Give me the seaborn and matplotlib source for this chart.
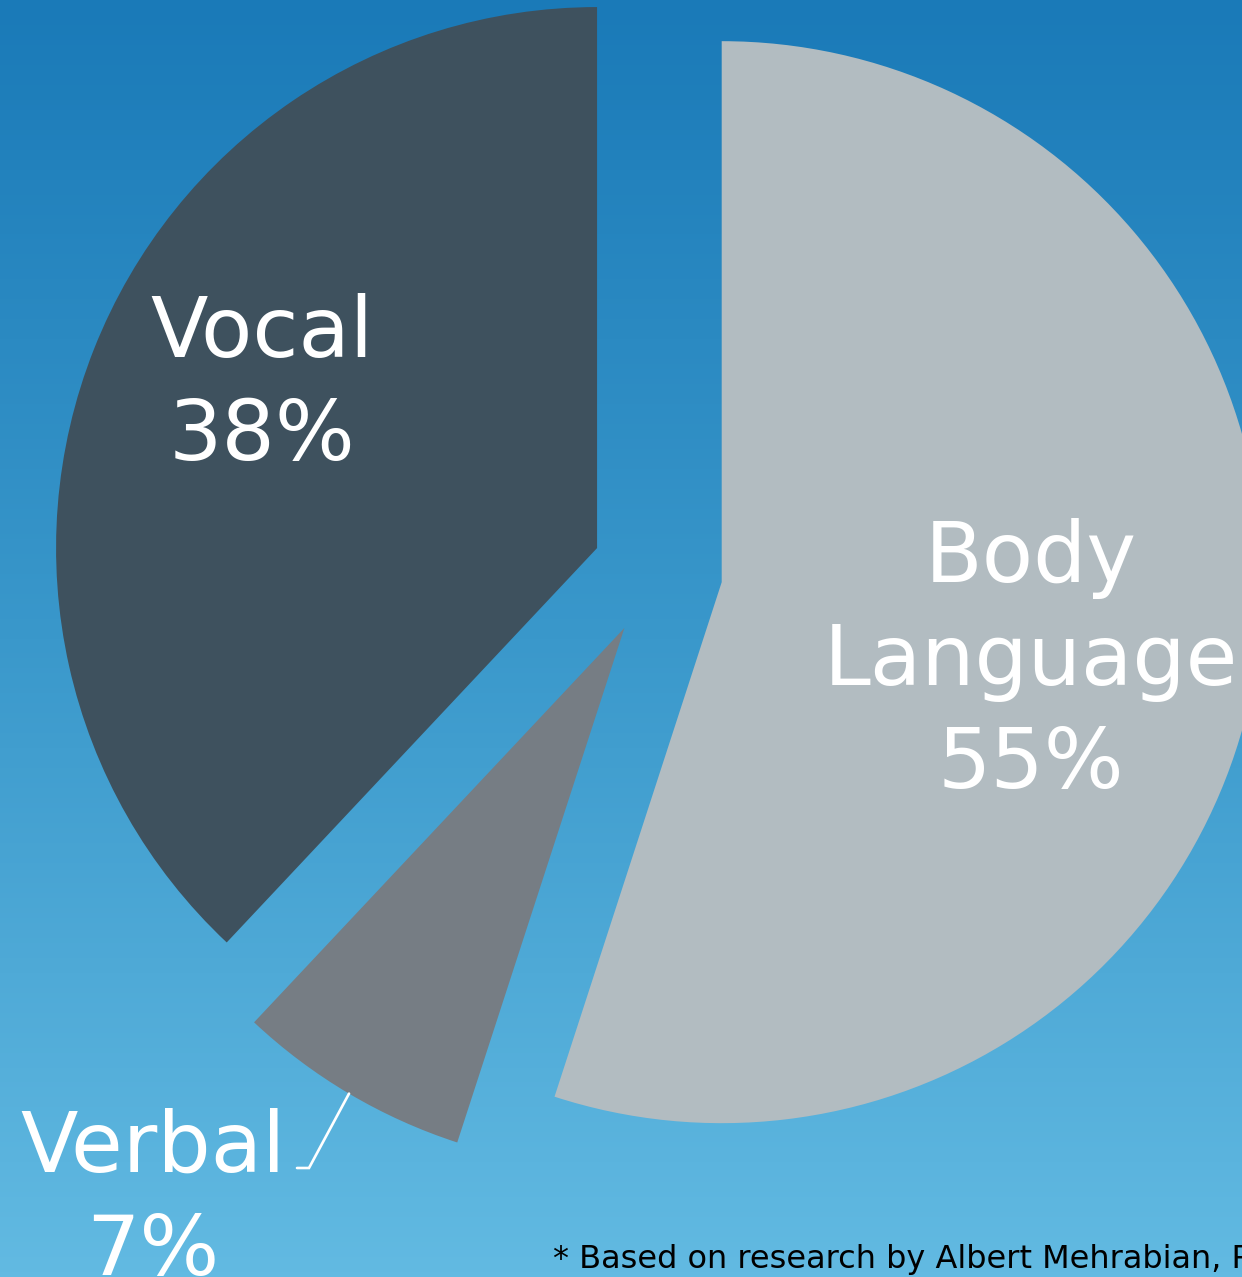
import numpy as np
import matplotlib
matplotlib.use("Agg")
import matplotlib.pyplot as plt
from matplotlib.colors import LinearSegmentedColormap
import seaborn as sns

# ---- data ----
categories = ["Body Language", "Verbal", "Vocal"]
shares = [55, 7, 38]
colors = ["#B2BCC1", "#767D84", "#3E515E"]
footnote = "* Based on research by Albert Mehrabian, PhD"

sns.set_theme(style="white")
plt.rcParams["font.family"] = ["DejaVu Sans"]

W, H = 1242, 1277
fig = plt.figure(figsize=(W / 100, H / 100), dpi=100)

# background gradient
bg = fig.add_axes([0, 0, 1, 1])
cmap = LinearSegmentedColormap.from_list("bg", ["#62BAE2", "#3A98CB", "#1A7AB8"])
grad = np.linspace(0, 1, 256).reshape(-1, 1)
bg.imshow(grad, aspect="auto", cmap=cmap, origin="lower", extent=(0, 1, 0, 1))
bg.set_axis_off()

ax = fig.add_axes([0, 0, 1, 1])
ax.set_facecolor("none")
center = (657.5, 705.0)
radius = 541
wedges, _ = ax.pie(shares, colors=colors, startangle=90, counterclock=False,
                   radius=radius, center=center, explode=[65, 65, 65],
                   wedgeprops=dict(linewidth=0))
ax.set_xlim(0, W)
ax.set_ylim(0, H)
ax.set_aspect("equal")
ax.set_axis_off()

fs = 60.5
txt = dict(color="white", fontsize=fs, ha="center", va="baseline")
# Body Language
ax.text(1031, H - 582, "Body", **txt)
ax.text(1031, H - 685, "Language", **txt)
ax.text(1031, H - 788, f"{shares[0]}%", **txt)
# Vocal
ax.text(262, H - 357, "Vocal", **txt)
ax.text(262, H - 460, f"{shares[2]}%", **txt)
# Verbal
ax.text(153, H - 1172, "Verbal", **txt)
ax.text(153, H - 1275, f"{shares[1]}%", **txt)

# leader line for Verbal from middle of its arc
w = wedges[1]
tm = np.deg2rad((w.theta1 + w.theta2) / 2)
px = w.center[0] + w.r * np.cos(tm)
py = w.center[1] + w.r * np.sin(tm)
ax.plot([px, 309, 297], [py, H - 1168, H - 1168], color="white", lw=1.9,
        solid_joinstyle="miter", clip_on=False)

ax.text(553, H - 1268, footnote, color="black", fontsize=23, ha="left",
        va="baseline")

fig.savefig("out.png", dpi=100)
